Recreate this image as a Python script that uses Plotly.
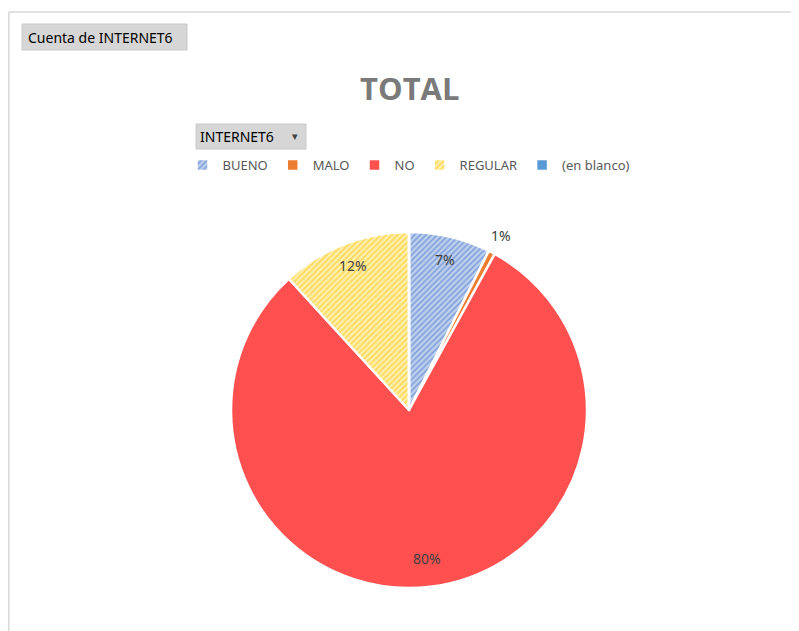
import math
import plotly.graph_objects as go

# Data
categories = ["BUENO", "MALO", "NO", "REGULAR", "(en blanco)"]
counts = [37, 3, 401, 59, 0]

# Styles
slice_colors = ["#c0d1ef", "#ed7d31", "#ff5050", "#fff0b0", "#5b9bd5"]
pattern_shapes = ["/", "", "", "/", ""]
pattern_fg = ["#4472c4", "#ed7d31", "#ff5050", "#ffc000", "#5b9bd5"]
label_radius = [0.87, 1.11, 0.84, 0.87, 0.0]

# The page is shown with an 8px body margin: work in reference pixels, shift by 8
OFF = 8
W, H = 799 - OFF, 631 - OFF


def px(x):
    return (x - OFF) / W


def py(y):
    return 1 - (y - OFF) / H


cx, cy, R = 409, 410, 178

fig = go.Figure()
fig.add_trace(go.Pie(
    labels=categories,
    values=counts,
    sort=False,
    direction="clockwise",
    rotation=0,
    marker=dict(
        colors=slice_colors,
        line=dict(color="white", width=2.5),
        pattern=dict(shape=pattern_shapes, fillmode="overlay",
                     fgcolor=pattern_fg, size=4, solidity=0.45),
    ),
    textinfo="none",
    domain=dict(x=[px(cx - R), px(cx + R)], y=[py(cy + R), py(cy - R)]),
    showlegend=True,
    hoverinfo="label+value+percent",
))

# percentage labels, positioned from the data's cumulative angles
total = sum(counts)
annotations = []
cum = 0
for cat, v, rf in zip(categories, counts, label_radius):
    if v > 0:
        mid = (cum + v / 2) / total * 2 * math.pi
        lx = cx + rf * R * math.sin(mid)
        ly = cy - rf * R * math.cos(mid)
        annotations.append(dict(text=f"{round(100 * v / total)}%", x=px(lx), y=py(ly),
                                xref="paper", yref="paper", showarrow=False,
                                font=dict(family="Noto Sans", size=14, color="#404040"),
                                xanchor="center", yanchor="middle"))
    cum += v

annotations += [
    dict(text="<b>TOTAL</b>", x=px(cx), y=py(88), xref="paper", yref="paper",
         showarrow=False, font=dict(family="Open Sans", size=31, color="#7a7a7a"),
         xanchor="center", yanchor="middle"),
    dict(text="Cuenta de INTERNET6", x=px(26), y=py(37.5), xref="paper", yref="paper",
         showarrow=False, font=dict(family="Noto Sans", size=14, color="#000000"),
         xanchor="left", yanchor="middle"),
    dict(text="INTERNET6", x=px(198), y=py(136.5), xref="paper", yref="paper",
         showarrow=False, font=dict(family="Noto Sans", size=14, color="#000000"),
         xanchor="left", yanchor="middle"),
    dict(text="▾", x=px(295), y=py(136.5), xref="paper", yref="paper",
         showarrow=False, font=dict(family="DejaVu Sans", size=11, color="#404040"),
         xanchor="center", yanchor="middle"),
]

fig.update_layout(
    width=W, height=H,
    margin=dict(l=0, r=0, t=0, b=0),
    paper_bgcolor="white",
    plot_bgcolor="white",
    font=dict(family="Noto Sans", color="#595959"),
    showlegend=True,
    legend=dict(orientation="h", x=px(cx), xanchor="center", y=py(165), yanchor="middle",
                font=dict(family="Noto Sans", size=13, color="#595959"), itemwidth=30,
                traceorder="normal", bgcolor="rgba(0,0,0,0)"),
    annotations=annotations,
    shapes=[
        dict(type="line", xref="paper", yref="paper", x0=0.001, x1=1, y0=py(12), y1=py(12),
             line=dict(color="#d9d9d9", width=1.5)),
        dict(type="line", xref="paper", yref="paper", x0=0.001, x1=0.001, y0=0, y1=py(12),
             line=dict(color="#d9d9d9", width=1.5)),
        dict(type="rect", xref="paper", yref="paper", x0=px(22), x1=px(187), y0=py(50), y1=py(24),
             fillcolor="#d6d6d6", line=dict(color="#c8c8c8", width=1), layer="below"),
        dict(type="rect", xref="paper", yref="paper", x0=px(196), x1=px(306), y0=py(149), y1=py(124),
             fillcolor="#d6d6d6", line=dict(color="#c8c8c8", width=1), layer="below"),
    ],
)

fig.write_html("out.html")
